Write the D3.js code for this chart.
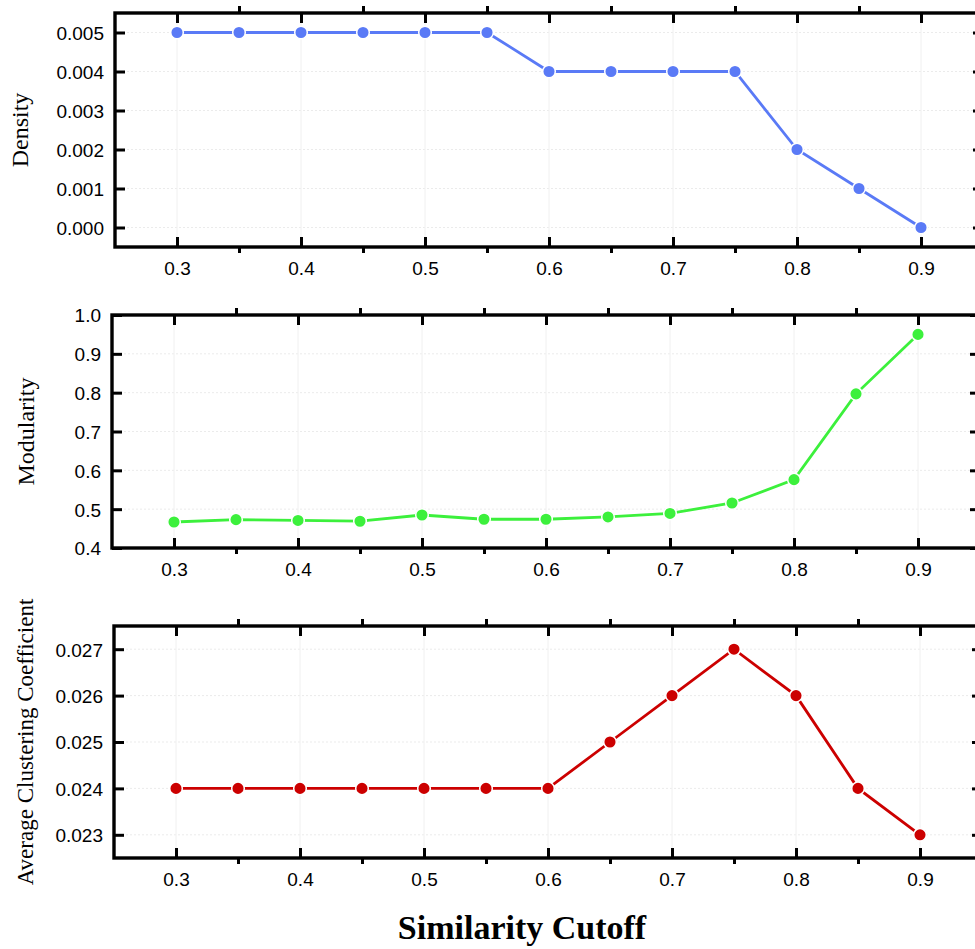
<!DOCTYPE html>
<html>
<head>
<meta charset="utf-8">
<script src="https://cdn.jsdelivr.net/npm/d3@7"></script>
<style>
  body { margin: 0; background: #fff; }
  .tick-label { font-family: "Liberation Sans", Arial, sans-serif; font-size: 19px; fill: #000; }
  .y-title { font-family: "Liberation Serif", "Times New Roman", serif; fill: #000; }
  .x-title { font-family: "Liberation Serif", "Times New Roman", serif; font-weight: bold; font-size: 34px; fill: #000; }
</style>
</head>
<body>
<div id="chart"></div>
<script>
const cutoffs = [0.3, 0.35, 0.4, 0.45, 0.5, 0.55, 0.6, 0.65, 0.7, 0.75, 0.8, 0.85, 0.9];
const density = [0.005, 0.005, 0.005, 0.005, 0.005, 0.005, 0.004, 0.004, 0.004, 0.004, 0.002, 0.001, 0.000];
const modularity = [0.467, 0.473, 0.471, 0.469, 0.485, 0.474, 0.474, 0.480, 0.489, 0.516, 0.576, 0.797, 0.950];
const clustering = [0.024, 0.024, 0.024, 0.024, 0.024, 0.024, 0.024, 0.025, 0.026, 0.027, 0.026, 0.024, 0.023];

const xMajorTicks = [0.3, 0.4, 0.5, 0.6, 0.7, 0.8, 0.9];
const xMinorTicks = [0.35, 0.45, 0.55, 0.65, 0.75, 0.85];
const densityTicks = [0.000, 0.001, 0.002, 0.003, 0.004, 0.005];
const modularityTicks = [0.4, 0.5, 0.6, 0.7, 0.8, 0.9, 1.0];
const clusteringTicks = [0.023, 0.024, 0.025, 0.026, 0.027];

// layout for each panel
const panels = [
    { values: density, ticks: densityTicks, domain: [-0.0005, 0.0055], fmt: ".3f",
      title: "Density", color: "#5a7af6", left: 115, top: 13, bottom: 247, titleX: 28, titleSize: 24 },
    { values: modularity, ticks: modularityTicks, domain: [0.4, 1.0], fmt: ".1f",
      title: "Modularity", color: "#3cf03c", left: 112, top: 315, bottom: 548, titleX: 34, titleSize: 24 },
    { values: clustering, ticks: clusteringTicks, domain: [0.0225, 0.0275], fmt: ".3f",
      title: "Average Clustering Coefficient", color: "#cc0000", left: 114, top: 626, bottom: 858, titleX: 33, titleSize: 23 }
];

const W = 975, H = 949;
const plotWidth = 868;

const svg = d3.select("#chart")
    .append("svg")
    .attr("width", W)
    .attr("height", H);

panels.forEach(p => {
    const x = d3.scaleLinear().domain([0.25, 0.95]).range([p.left, p.left + plotWidth]);
    const y = d3.scaleLinear().domain(p.domain).range([p.bottom, p.top]);
    const g = svg.append("g");

    // faint grid
    g.selectAll(".hgrid")
        .data(p.ticks)
        .enter()
        .append("line")
        .attr("x1", x.range()[0])
        .attr("x2", x.range()[1])
        .attr("y1", d => y(d))
        .attr("y2", d => y(d))
        .attr("stroke", "#ebebeb")
        .attr("stroke-width", 1)
        .attr("stroke-dasharray", "2,2");

    g.selectAll(".vgrid")
        .data(xMajorTicks)
        .enter()
        .append("line")
        .attr("x1", d => x(d))
        .attr("x2", d => x(d))
        .attr("y1", p.top)
        .attr("y2", p.bottom)
        .attr("stroke", "#f0f0f0")
        .attr("stroke-width", 1);

    // axes: major ticks inward, minor ticks outward
    const styleAxis = sel => {
        sel.select(".domain").remove();
        sel.selectAll(".tick line").attr("stroke", "#000").attr("stroke-width", 3);
        sel.selectAll(".tick text").attr("class", "tick-label").attr("fill", "#000");
    };

    g.append("g")
        .attr("transform", `translate(0,${p.bottom})`)
        .call(d3.axisBottom(x).tickValues(xMajorTicks).tickSize(-10).tickPadding(0).tickFormat(d3.format(".1f")))
        .call(styleAxis)
        .selectAll(".tick text")
        .attr("y", 28)
        .attr("dy", 0);

    g.append("g")
        .attr("transform", `translate(0,${p.bottom})`)
        .call(d3.axisBottom(x).tickValues(xMinorTicks).tickSize(6).tickFormat(""))
        .call(styleAxis);

    g.append("g")
        .attr("transform", `translate(0,${p.top})`)
        .call(d3.axisTop(x).tickValues(xMajorTicks).tickSize(-10).tickFormat(""))
        .call(styleAxis);

    g.append("g")
        .attr("transform", `translate(0,${p.top})`)
        .call(d3.axisTop(x).tickValues(xMinorTicks).tickSize(7).tickFormat(""))
        .call(styleAxis);

    g.append("g")
        .attr("transform", `translate(${p.left},0)`)
        .call(d3.axisLeft(y).tickValues(p.ticks).tickSize(-10).tickPadding(0).tickFormat(d3.format(p.fmt)))
        .call(styleAxis)
        .selectAll(".tick text")
        .attr("x", -11)
        .attr("dy", "0.36em");

    g.append("g")
        .attr("transform", `translate(${p.left + plotWidth},0)`)
        .call(d3.axisRight(y).tickValues(p.ticks).tickSize(-10).tickFormat(""))
        .call(styleAxis);

    // frame
    g.append("rect")
        .attr("x", p.left)
        .attr("y", p.top)
        .attr("width", plotWidth)
        .attr("height", p.bottom - p.top)
        .attr("fill", "none")
        .attr("stroke", "#000")
        .attr("stroke-width", 3.4);

    // series line and markers
    const pts = cutoffs.map((c, i) => [c, p.values[i]]);
    g.append("path")
        .datum(pts)
        .attr("fill", "none")
        .attr("stroke", p.color)
        .attr("stroke-width", 2.8)
        .attr("d", d3.line().x(d => x(d[0])).y(d => y(d[1])));

    g.selectAll(".pt")
        .data(pts)
        .enter()
        .append("circle")
        .attr("cx", d => x(d[0]))
        .attr("cy", d => y(d[1]))
        .attr("r", 6.3)
        .attr("fill", p.color)
        .attr("stroke", "#fff")
        .attr("stroke-width", 1.5);

    // y title
    g.append("text")
        .attr("class", "y-title")
        .attr("transform", `translate(${p.titleX},${(p.top + p.bottom) / 2}) rotate(-90)`)
        .attr("text-anchor", "middle")
        .style("font-size", p.titleSize + "px")
        .text(p.title);
});

svg.append("text")
    .attr("class", "x-title")
    .attr("x", 522)
    .attr("y", 939)
    .attr("text-anchor", "middle")
    .text("Similarity Cutoff");
</script>
</body>
</html>
